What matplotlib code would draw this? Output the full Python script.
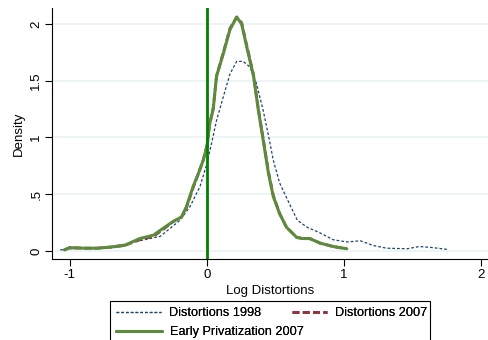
import matplotlib
matplotlib.use("Agg")
import matplotlib.pyplot as plt
from matplotlib.patches import Rectangle

plt.rcParams['font.family'] = ['Liberation Sans', 'DejaVu Sans']

# Kernel density estimates of log distortions
x_1998 = [-1.07, -1.0, -0.9, -0.8, -0.7, -0.6, -0.49, -0.34, -0.197, -0.124, -0.05,
          0.0, 0.034, 0.07, 0.12, 0.168, 0.217, 0.265, 0.314, 0.36, 0.41, 0.45, 0.484,
          0.53, 0.6, 0.66, 0.73, 0.825, 0.92, 1.02, 1.12, 1.21, 1.31, 1.46, 1.55, 1.65, 1.75]
y_1998 = [0.01, 0.02, 0.025, 0.03, 0.04, 0.06, 0.09, 0.13, 0.27, 0.39, 0.57,
          0.77, 0.95, 1.15, 1.36, 1.56, 1.67, 1.67, 1.62, 1.48, 1.24, 1.01, 0.80,
          0.60, 0.42, 0.27, 0.21, 0.16, 0.10, 0.08, 0.09, 0.05, 0.025, 0.02, 0.04, 0.03, 0.015]

x_2007 = [-1.04, -1.0, -0.9, -0.8, -0.7, -0.6, -0.49, -0.39, -0.32, -0.246, -0.185, -0.15,
          -0.10, -0.063, -0.027, 0.0, 0.02, 0.046, 0.07, 0.12, 0.168, 0.217, 0.253, 0.29,
          0.34, 0.375, 0.41, 0.448, 0.484, 0.53, 0.58, 0.655, 0.7, 0.75, 0.825, 0.92, 1.02]
y_2007 = [0.01, 0.03, 0.025, 0.025, 0.035, 0.05, 0.10, 0.13, 0.19, 0.26, 0.30, 0.38,
          0.56, 0.68, 0.80, 0.93, 1.12, 1.26, 1.54, 1.75, 1.96, 2.06, 2.01, 1.81,
          1.55, 1.25, 0.99, 0.70, 0.49, 0.33, 0.21, 0.12, 0.11, 0.11, 0.07, 0.04, 0.02]

x_early = [-1.04, -1.0, -0.9, -0.8, -0.7, -0.6, -0.49, -0.39, -0.32, -0.246, -0.185, -0.15,
           -0.10, -0.063, -0.027, 0.0, 0.02, 0.046, 0.07, 0.12, 0.168, 0.217, 0.253, 0.29,
           0.34, 0.375, 0.41, 0.448, 0.484, 0.53, 0.58, 0.655, 0.7, 0.75, 0.825, 0.92, 1.02]
y_early = [0.01, 0.03, 0.025, 0.025, 0.035, 0.05, 0.11, 0.14, 0.20, 0.26, 0.30, 0.39,
           0.57, 0.68, 0.80, 0.92, 1.12, 1.25, 1.54, 1.74, 1.95, 2.06, 2.00, 1.80,
           1.54, 1.24, 0.98, 0.69, 0.48, 0.33, 0.21, 0.12, 0.11, 0.11, 0.07, 0.04, 0.02]

x_ticks = [-1, 0, 1, 2]
y_ticks = [0, 0.5, 1, 1.5, 2]
y_tick_labels = ["0", ".5", "1", "1.5", "2"]

W, H = 489, 340
fig = plt.figure(figsize=(W / 100, H / 100), dpi=100)
ax = fig.add_axes([52 / W, 1 - 259 / H, 436 / W, 251 / H])

for yt in y_ticks:
    ax.axhline(yt, color='#eaf2f3', lw=1.2, zorder=0)

l1, = ax.plot(x_1998, y_1998, color='#1a476f', lw=0.9, ls=(0, (2.2, 1.6)),
              label='Distortions 1998', zorder=2)
l2, = ax.plot(x_2007, y_2007, color='#90353b', lw=2.0, ls=(0, (2.5, 1.2)),
              label='Distortions 2007', zorder=3)
l3, = ax.plot(x_early, y_early, color='#5e8a3e', lw=2.2, solid_joinstyle='round',
              solid_capstyle='round', label='Early Privatization 2007', zorder=4)
ax.axvline(0, color='#008000', lw=2.0, zorder=5)

ax.set_xlim(-1.13, 2.05)
ax.set_ylim(-0.07, 2.14)
ax.set_xticks(x_ticks)
ax.set_xticklabels([str(t) for t in x_ticks])
ax.set_yticks(y_ticks)
ax.set_yticklabels(y_tick_labels, rotation=90, va='center')
ax.tick_params(axis='both', labelsize=9.5, length=5, width=0.8, direction='out', pad=2)
ax.spines['top'].set_visible(False)
ax.spines['right'].set_visible(False)
ax.spines['left'].set_linewidth(0.8)
ax.spines['bottom'].set_linewidth(0.8)
ax.set_xlabel('Log Distortions', fontsize=9.5, labelpad=3)
ax.set_ylabel('Density', fontsize=9.5, labelpad=4)

# Legend: frame plus one entry per key, laid out in two rows
fig.patches.append(Rectangle((110.5 / W, -0.05), (430 - 110.5) / W, 0.05 + 1 - 301 / H,
                             transform=fig.transFigure, fill=False, edgecolor='black',
                             lw=0.8, zorder=1))

def key(handle, x0, y0, length):
    lg = fig.legend(handles=[handle], loc='center left',
                    bbox_to_anchor=(x0 / W, 1 - y0 / H), fontsize=9.2, frameon=False,
                    handlelength=length, handletextpad=0.62, borderpad=0,
                    borderaxespad=0)
    fig.add_artist(lg)
    return lg

key(l1, 116.5, 313.5, 3.5)
key(l2, 291.5, 313.5, 2.75)
key(l3, 116.5, 332.5, 3.6)

fig.savefig('out.png', dpi=100)
